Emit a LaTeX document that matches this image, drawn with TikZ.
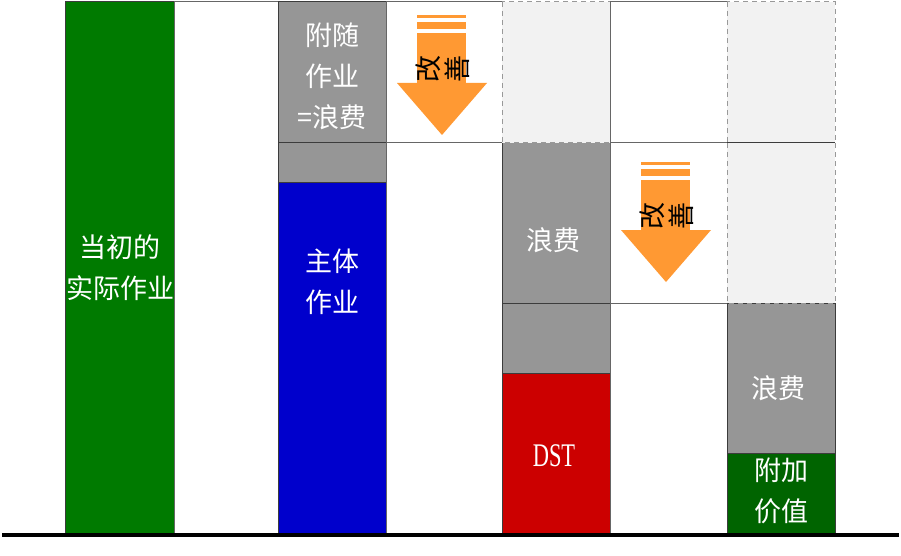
\documentclass[tikz,border=0pt]{standalone}
\usepackage{fontspec}
\setmainfont{Noto Sans CJK SC}
\newfontfamily\dstfont{Liberation Serif}
\definecolor{cgreen}{RGB}{0,122,0}
\definecolor{cdgreen}{RGB}{0,100,0}
\definecolor{cblue}{RGB}{0,0,204}
\definecolor{cred}{RGB}{204,0,0}
\definecolor{cgray}{RGB}{150,150,150}
\definecolor{clight}{RGB}{242,242,242}
\definecolor{corange}{RGB}{255,153,51}
\definecolor{cedge}{RGB}{60,60,60}
\tikzset{
  bar/.style={draw=cedge,line width=1pt},
  ghost/.style={fill=clight,draw=black!40,line width=1pt,dash pattern=on 5pt off 4pt},
  label/.style={text=white,font=\fontsize{27}{41}\selectfont,align=center,inner sep=0pt},
  glyph/.style={text=black,font=\fontsize{27}{30}\selectfont,inner sep=0pt,rotate=90},
  improve/.pic={
    \fill[corange] (-25,0) rectangle (24,3.5);
    \fill[corange] (-25,7) rectangle (24,14);
    \fill[corange] (-25,18) rectangle (24,68);
    \fill[corange] (-45,68) -- (45,68) -- (0,120) -- cycle;
    \node[glyph] (-gA) at (-14,54) {改};
    \node[glyph] (-gB) at (15,54) {善};
  }
}
\begin{document}
\begin{tikzpicture}[x=1pt,y=-1pt]
\useasboundingbox (0,0) rectangle (901,556);
\fill[white] (0,0) rectangle (901,556);
% column 1
\draw[bar,fill=cgreen] (65,2) rectangle (174,533);
% column 2
\draw[bar,draw=black!60,fill=white] (174,2) rectangle (278,533);
% column 3
\draw[bar,fill=cgray] (278,2) rectangle (386,143);
\draw[bar,fill=cgray] (278,143) rectangle (386,182);
\draw[bar,fill=cblue] (278,182) rectangle (386,533);
% column 4
\draw[bar,draw=black!60,fill=white] (386,2) rectangle (502,143);
\draw[bar,draw=black!60,fill=white] (386,143) rectangle (502,533);
% column 5
\draw[bar,fill=cgray] (502,143) rectangle (610,303);
\draw[bar,fill=cgray] (502,303) rectangle (610,373);
\draw[bar,fill=cred] (502,373) rectangle (610,533);
\draw[ghost] (502,2) rectangle (610,143);
% column 6
\draw[bar,draw=black!60,fill=white] (610,2) rectangle (727,143);
\draw[bar,draw=black!60,fill=white] (610,143) rectangle (727,303);
\draw[bar,draw=black!60,fill=white] (610,303) rectangle (727,533);
% column 7
\draw[bar,fill=cgray] (727,303) rectangle (835,453);
\draw[bar,fill=cdgreen] (727,453) rectangle (835,533);
\draw[ghost] (727,2) rectangle (835,143);
\draw[ghost] (727,143) rectangle (835,303);
\draw[cedge,line width=1pt] (727,143) -- (835,143);
% base line
\draw[black,line width=4pt] (2,535) -- (899,535);
% arrows
\pic (imp1) at (442,15) {improve};
\pic (imp2) at (666,162) {improve};
% labels
\node[label] (t1) at (120,268) {当初的\\实际作业};
\node[label] (t2) at (332,76) {附随\\作业\\=浪费};
\node[label] (t3) at (332,282) {主体\\作业};
\node[label] (t4) at (553,240) {浪费};
\node[label,font=\dstfont\fontsize{33}{36}\selectfont,xscale=0.68] (t5) at (554,456) {DST};
\node[label] (t6) at (778,388) {浪费};
\node[label] (t7) at (781,491) {附加\\价值};
\end{tikzpicture}
\end{document}
